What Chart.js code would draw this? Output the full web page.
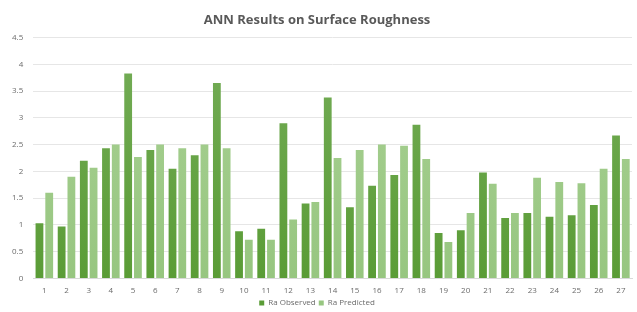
<!DOCTYPE html>
<html>
<head>
<meta charset="utf-8">
<script src="https://cdn.jsdelivr.net/npm/chart.js@4"></script>
<style>
    html, body { margin: 0; padding: 0; background: #ffffff; }
    #wrap { width: 637px; height: 312px; position: relative; }
</style>
</head>
<body>
<div id="wrap"><canvas id="chart"></canvas></div>
<script>
const sampleLabels = ['1', '2', '3', '4', '5', '6', '7', '8', '9', '10', '11', '12', '13', '14',
    '15', '16', '17', '18', '19', '20', '21', '22', '23', '24', '25', '26', '27'];
const raObserved = [1.03, 0.97, 2.2, 2.43, 3.83, 2.4, 2.05, 2.3, 3.65, 0.88, 0.93, 2.9, 1.4, 3.38,
    1.33, 1.73, 1.93, 2.87, 0.85, 0.9, 1.98, 1.13, 1.22, 1.15, 1.18, 1.37, 2.67];
const raPredicted = [1.6, 1.9, 2.07, 2.5, 2.27, 2.5, 2.43, 2.5, 2.43, 0.72, 0.72, 1.1, 1.43, 2.25,
    2.4, 2.5, 2.48, 2.23, 0.68, 1.22, 1.77, 1.22, 1.88, 1.8, 1.78, 2.05, 2.23];

function barGradient(top, bottom) {
    return function(context) {
        const area = context.chart.chartArea;
        if (!area) return bottom;
        const g = context.chart.ctx.createLinearGradient(0, area.top, 0, area.bottom);
        g.addColorStop(0, top);
        g.addColorStop(1, bottom);
        return g;
    };
}

const ctx = document.getElementById('chart').getContext('2d');
new Chart(ctx, {
    type: 'bar',
    data: {
        labels: sampleLabels,
        datasets: [{
            label: 'Ra Observed',
            data: raObserved,
            backgroundColor: barGradient('#75ad58', '#5a9c36'),
            barPercentage: 0.8,
            categoryPercentage: 0.88
        }, {
            label: 'Ra Predicted',
            data: raPredicted,
            backgroundColor: barGradient('#a9d194', '#97c680'),
            barPercentage: 0.8,
            categoryPercentage: 0.88
        }]
    },
    options: {
        responsive: true,
        maintainAspectRatio: false,
        animation: false,
        layout: {
            padding: { left: 2, right: 5, top: 6, bottom: -5 }
        },
        scales: {
            x: {
                grid: { display: false },
                border: { color: '#d9d9d9' },
                ticks: {
                    color: '#6b6b6b',
                    font: { family: 'Open Sans', size: 8 },
                    maxRotation: 0,
                    padding: 0
                }
            },
            y: {
                min: 0,
                max: 4.5,
                grid: { color: '#e6e6e6', drawTicks: false },
                border: { display: false },
                ticks: {
                    stepSize: 0.5,
                    color: '#6b6b6b',
                    font: { family: 'Open Sans', size: 8 },
                    padding: 10,
                    callback: function(value) {
                        return String(value);
                    }
                }
            }
        },
        plugins: {
            title: {
                display: true,
                text: 'ANN Results on Surface Roughness',
                color: '#595959',
                font: { family: 'Open Sans', size: 13, weight: 'bold' },
                padding: { top: 6, bottom: 10 }
            },
            legend: {
                position: 'bottom',
                labels: {
                    color: '#6b6b6b',
                    font: { family: 'Open Sans', size: 8 },
                    boxWidth: 5,
                    boxHeight: 5,
                    padding: 3
                }
            },
            tooltip: { enabled: false }
        }
    }
});
</script>
</body>
</html>
